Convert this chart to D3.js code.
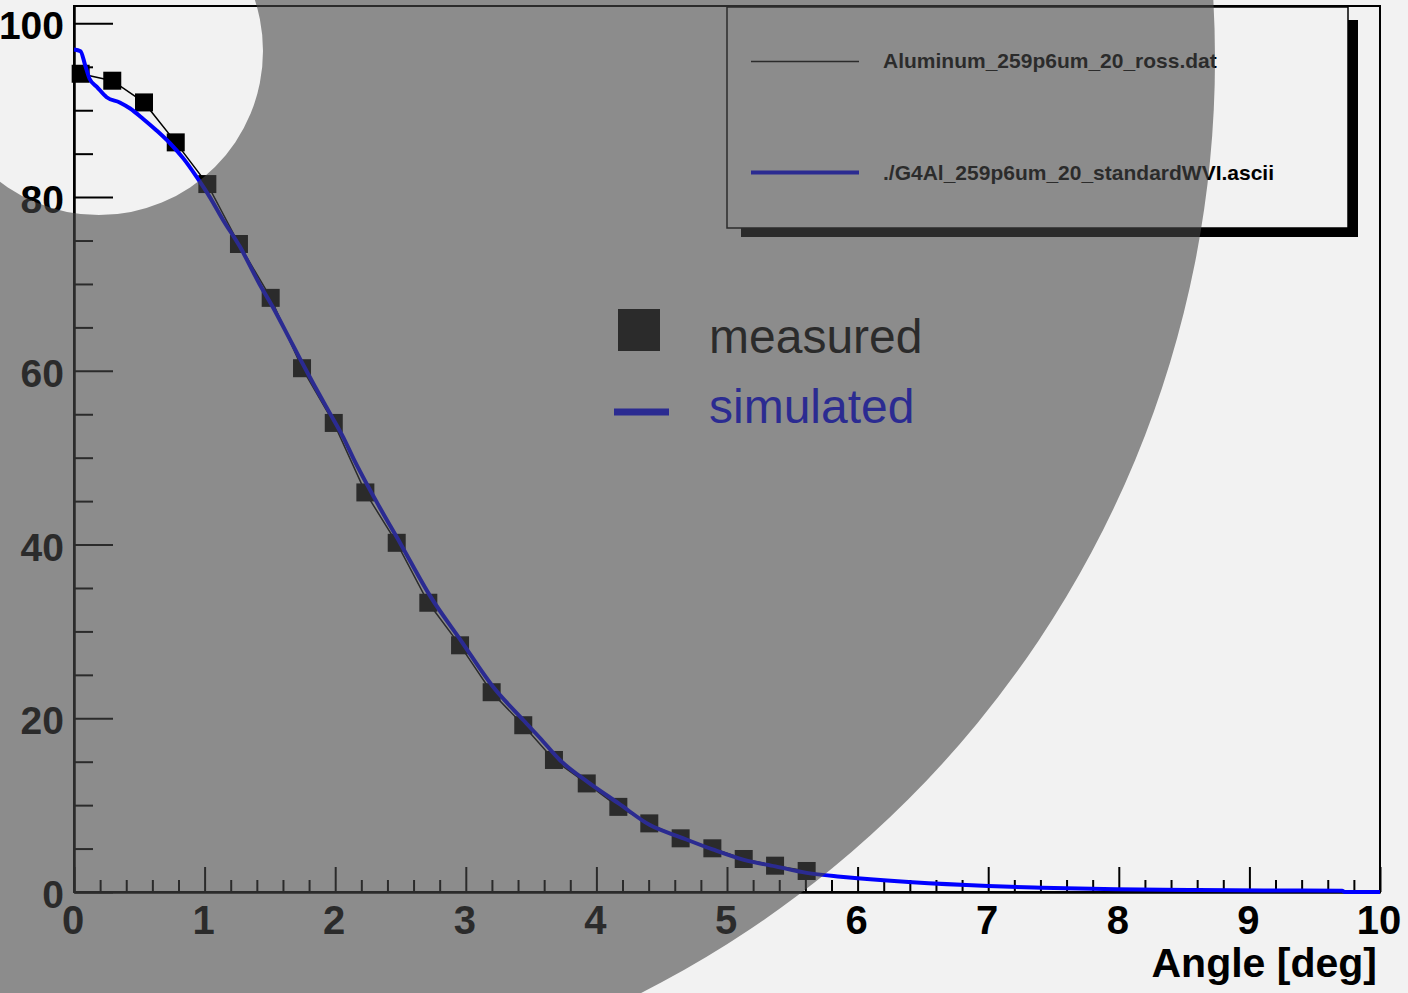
<!DOCTYPE html>
<html>
<head>
<meta charset="utf-8">
<script src="https://cdn.jsdelivr.net/npm/d3@7"></script>
<style>
html,body{margin:0;padding:0;background:#f2f2f2;}
svg{display:block;}
text{font-family:"Liberation Sans",Arial,Helvetica,sans-serif;}
</style>
</head>
<body>
<svg id="c" width="1408" height="993"></svg>
<script>
// ---- data ----
const measuredX = [0.051,0.293,0.536,0.779,1.021,1.263,1.506,1.746,1.989,2.231,2.471,2.713,2.956,3.198,3.440,3.675,3.926,4.168,4.405,4.645,4.888,5.128,5.368,5.610];
const measuredY = [94.2,93.4,90.9,86.3,81.5,74.6,68.4,60.3,54.0,46.0,40.2,33.3,28.4,23.0,19.2,15.2,12.5,9.8,7.9,6.18,5.03,3.80,3.03,2.42];
const simX = [0.0,0.05,0.085,0.12,0.175,0.25,0.35,0.43,0.53,0.63,0.735,0.84,0.94,1.04,1.14,1.27,1.42,1.52,1.65,1.73,1.83,1.96,2.06,2.14,2.34,2.50,2.73,2.96,3.21,3.44,3.57,3.72,3.93,4.17,4.41,4.645,4.89,5.13,5.37,5.61,5.87,6.0,6.42,7.0,7.41,7.98,8.54,9.11,9.71,9.73,10.0];
const simY = [97.0,96.8,95.2,93.6,92.7,91.5,90.9,90.2,89.0,87.7,86.2,84.4,82.3,80.0,77.4,74.3,70.0,67.4,63.7,61.4,58.6,55.1,52.4,49.9,44.3,40.1,34.0,29.0,23.6,19.8,17.7,15.2,12.7,10.2,7.7,6.3,4.9,3.7,2.95,2.2,1.76,1.58,1.11,0.69,0.5,0.31,0.23,0.17,0.15,0.0,0.0];
const xMajorTicks = [0,1,2,3,4,5,6,7,8,9,10];
const xMinorTicks = [0.2,0.4,0.6,0.8,1.2,1.4,1.6,1.8,2.2,2.4,2.6,2.8,3.2,3.4,3.6,3.8,4.2,4.4,4.6,4.8,5.2,5.4,5.6,5.8,6.2,6.4,6.6,6.8,7.2,7.4,7.6,7.8,8.2,8.4,8.6,8.8,9.2,9.4,9.6,9.8];
const yMajorTicks = [0,20,40,60,80,100];
const yMinorTicks = [5,10,15,25,30,35,45,50,55,65,70,75,85,90,95];
const xTitle = "Angle [deg]";
const legendEntries = ["Aluminum_259p6um_20_ross.dat","./G4Al_259p6um_20_standardWVI.ascii"];
const legend2 = ["measured","simulated"];

// ---- drawing ----
const svg = d3.select("#c");
const L=74,R=1380,T=6,B=892;
const x = d3.scaleLinear().domain([0,10]).range([L,R]);
const y = d3.scaleLinear().domain([0,102]).range([B,T]);

svg.append("rect").attr("width",1408).attr("height",993).attr("fill","#f2f2f2");

// frame
svg.append("rect").attr("x",L).attr("y",T).attr("width",R-L).attr("height",B-T)
  .attr("fill","none").attr("stroke","#000").attr("stroke-width",2);

// x axis
const gx = svg.append("g").attr("transform",`translate(0,${B})`);
gx.append("g").call(d3.axisBottom(x).tickValues(xMinorTicks).tickSize(-12).tickSizeOuter(0).tickFormat(""));
gx.append("g").call(d3.axisBottom(x).tickValues(xMajorTicks).tickSize(-25).tickSizeOuter(0).tickPadding(14).tickFormat(d3.format("d")));
gx.selectAll("text").attr("font-size",40).attr("font-weight","bold").attr("fill","#000").attr("dx",-1.5)
  .attr("font-family","'Liberation Sans',Arial,sans-serif");

// y axis
const gy = svg.append("g").attr("transform",`translate(${L},0)`);
gy.append("g").call(d3.axisLeft(y).tickValues(yMinorTicks).tickSize(-19).tickSizeOuter(0).tickFormat(""));
gy.append("g").call(d3.axisLeft(y).tickValues(yMajorTicks).tickSize(-39).tickSizeOuter(0).tickPadding(10).tickFormat(d3.format("d")));
gy.selectAll("text").attr("font-size",39).attr("font-weight","bold").attr("fill","#000").attr("dy","0.4em")
  .attr("font-family","'Liberation Sans',Arial,sans-serif");
svg.selectAll(".domain").attr("stroke","#000").attr("stroke-width",2);
svg.selectAll(".tick line").attr("stroke","#000").attr("stroke-width",2);

// x title
svg.append("text").attr("x",1377).attr("y",977).attr("text-anchor","end")
  .attr("font-size",41).attr("font-weight","bold").attr("fill","#000").text(xTitle);

// measured
const meas = measuredX.map((d,i)=>[d,measuredY[i]]);
const sim = simX.map((d,i)=>[d,simY[i]]);
const line = d3.line().x(d=>x(d[0])).y(d=>y(d[1]));
svg.append("path").attr("d",line(meas)).attr("fill","none").attr("stroke","#000").attr("stroke-width",1.5);
svg.append("g").selectAll("rect").data(meas).join("rect")
  .attr("x",d=>x(d[0])-9).attr("y",d=>y(d[1])-9).attr("width",18).attr("height",18).attr("fill","#000");
svg.append("path").attr("d",d3.line().x(d=>x(d[0])).y(d=>y(d[1])).curve(d3.curveMonotoneX)(sim))
  .attr("fill","none").attr("stroke","#0000ff").attr("stroke-width",4).attr("stroke-linejoin","round");

// legend box
svg.append("rect").attr("x",741).attr("y",20).attr("width",617).attr("height",217).attr("fill","#000");
svg.append("rect").attr("x",727).attr("y",7).attr("width",621).attr("height",221)
  .attr("fill","#f2f2f2").attr("stroke","#000").attr("stroke-width",1.5);
svg.append("line").attr("x1",751).attr("x2",859).attr("y1",61.5).attr("y2",61.5).attr("stroke","#000").attr("stroke-width",1.5);
svg.append("line").attr("x1",751).attr("x2",859).attr("y1",172.5).attr("y2",172.5).attr("stroke","#0000ff").attr("stroke-width",4);
svg.append("text").attr("x",883).attr("y",68).attr("font-size",21).attr("font-weight","bold").attr("fill","#000").text(legendEntries[0]);
svg.append("text").attr("x",883).attr("y",180).attr("font-size",21).attr("font-weight","bold").attr("fill","#000").text(legendEntries[1]);

// second legend
svg.append("rect").attr("x",618).attr("y",309).attr("width",42).attr("height",42).attr("fill","#000");
svg.append("text").attr("x",709).attr("y",353).attr("font-size",48).attr("fill","#000").text(legend2[0]);
svg.append("line").attr("x1",614).attr("x2",669).attr("y1",412).attr("y2",412).attr("stroke","#0000ff").attr("stroke-width",7);
svg.append("text").attr("x",709).attr("y",423).attr("font-size",48).attr("fill","#0000ff").text(legend2[1]);

// overlay (annulus)
const bc={x:168,y:59,r:1047}, sc={x:99,y:51,r:164};
const p = d3.path();
p.moveTo(bc.x+bc.r,bc.y); p.arc(bc.x,bc.y,bc.r,0,2*Math.PI);
p.moveTo(sc.x+sc.r,sc.y); p.arc(sc.x,sc.y,sc.r,0,2*Math.PI);
svg.append("path").attr("d",p.toString()).attr("fill-rule","evenodd")
  .attr("fill","rgb(72,72,72)").attr("fill-opacity",0.6);
</script>
</body>
</html>
